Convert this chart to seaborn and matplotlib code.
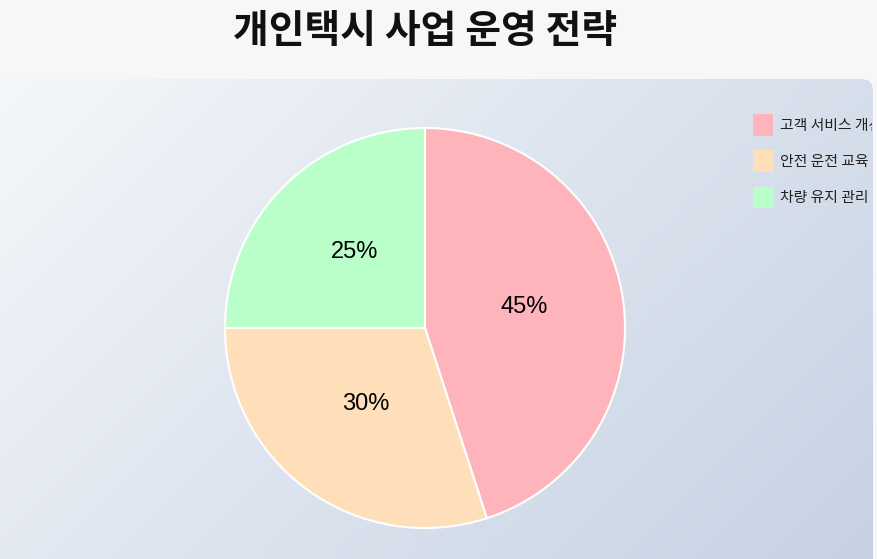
import numpy as np
import matplotlib
matplotlib.use("Agg")
import matplotlib.pyplot as plt
import matplotlib.transforms as mtransforms
import seaborn as sns
from matplotlib.patches import FancyBboxPatch

# chart data
labels = ["고객 서비스 개선", "안전 운전 교육", "차량 유지 관리"]
shares = [45, 30, 25]
colors = ["#ffb3ba", "#ffdfba", "#baffc9"]
title = "개인택시 사업 운영 전략"

sns.set_theme(style="white")
plt.rcParams['font.family'] = ['Noto Sans CJK KR', 'DejaVu Sans']

W, H = 877, 559
fig = plt.figure(figsize=(W / 100, H / 100), dpi=100)
fig.patch.set_facecolor("#f7f7f7")

# background panel with diagonal gradient
bg = fig.add_axes([0, 0, 1, 1])
bg.set_xlim(0, W)
bg.set_ylim(H, 0)
bg.axis("off")
panel = FancyBboxPatch((-20, 79), 893, 560, boxstyle="round,pad=0,rounding_size=12",
                       facecolor="none", edgecolor="none")
bg.add_patch(panel)
yy, xx = np.mgrid[0:1:200j, 0:1:200j]
t = np.clip((xx * 893 + (yy * 480)) / (893 + 560), 0, 1)
c0 = np.array([0xf5, 0xf7, 0xfa]) / 255
c1 = np.array([0xc3, 0xcf, 0xe2]) / 255
grad = c0[None, None, :] * (1 - t[..., None]) + c1[None, None, :] * t[..., None]
im = bg.imshow(grad, extent=(-20, 873, 559, 79), origin="upper", aspect="auto")
im.set_clip_path(panel)

fig.text(425 / W, 1 - 32 / H, title, ha="center", va="center",
         fontsize=28, fontweight="bold", color="#111111")

# pie
cx, cy, r = 425, 328, 200
ax = fig.add_axes([(cx - r) / W, (H - cy - r) / H, 2 * r / W, 2 * r / H])
wedges, texts, autotexts = ax.pie(
    shares, colors=colors, startangle=90, counterclock=False,
    autopct="%d%%", pctdistance=0.5,
    wedgeprops=dict(edgecolor="white", linewidth=1.5),
    textprops=dict(fontsize=17, color="black", family="Liberation Sans"))
ax.set_xlim(-1.0, 1.0)
ax.set_ylim(-1.0, 1.0)
ax.patch.set_alpha(0)
shift = mtransforms.ScaledTranslation(0, 5 / 100, fig.dpi_scale_trans)
for at in autotexts:
    at.set_transform(at.get_transform() + shift)

leg = fig.legend(wedges, labels, loc="upper left",
                 bbox_to_anchor=(753 / W, 1 - 114 / H), frameon=False,
                 borderaxespad=0, borderpad=0, fontsize=10.7,
                 handlelength=1.35, handleheight=1.85, handletextpad=0.5,
                 labelspacing=1.0)
clip = mtransforms.Bbox([[0, 0], [872, H]])
for txt in leg.get_texts():
    txt.set_color("#222222")
    txt.set_clip_on(True)
    txt.set_clip_box(clip)
for h in leg.legend_handles:
    h.set_edgecolor("none")

fig.savefig("out.png", dpi=100, facecolor=fig.get_facecolor())
